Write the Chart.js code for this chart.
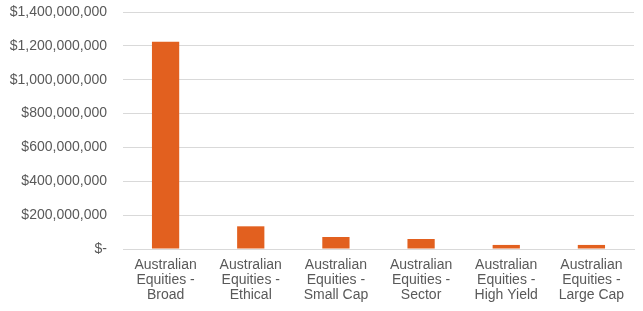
<!DOCTYPE html>
<html>
<head>
<meta charset="utf-8">
<script src="https://cdn.jsdelivr.net/npm/chart.js@4/dist/chart.umd.min.js"></script>
<style>
  html, body { margin: 0; padding: 0; background: #fff; }
  #wrap { width: 643px; height: 311px; }
</style>
</head>
<body>
<div id="wrap"><canvas id="fundChart"></canvas></div>
<script>
// ========== DATA ==========
const categories = [
  ["Australian", "Equities -", "Broad"],
  ["Australian", "Equities -", "Ethical"],
  ["Australian", "Equities -", "Small Cap"],
  ["Australian", "Equities -", "Sector"],
  ["Australian", "Equities -", "High Yield"],
  ["Australian", "Equities -", "Large Cap"],
];
const fundsUnderManagement = [1225000000, 134000000, 71000000, 59000000, 24000000, 24000000];
const yMax = 1400000000;
const yStep = 200000000;

// ========== CHART ==========
const labelFont = { family: "'Liberation Sans', Arial, sans-serif", size: 14, lineHeight: 1.1 };

new Chart(document.getElementById("fundChart"), {
  type: "bar",
  data: {
    labels: categories,
    datasets: [
      {
        data: fundsUnderManagement,
        backgroundColor: "#E2601F",
        categoryPercentage: 1,
        barPercentage: 0.32,
      },
    ],
  },
  options: {
    responsive: true,
    maintainAspectRatio: false,
    animation: false,
    layout: { padding: { top: 12, right: 9, bottom: 0, left: 0 } },
    plugins: {
      legend: { display: false },
      tooltip: { enabled: false },
    },
    scales: {
      x: {
        grid: { display: false, drawTicks: false },
        border: { color: "#d9d9d9" },
        ticks: { color: "#595959", font: labelFont, padding: 8, maxRotation: 0, autoSkip: false },
        afterFit: (scale) => { scale.height = 62; },
      },
      y: {
        min: 0,
        max: yMax,
        grid: { color: "#d9d9d9", drawTicks: false },
        border: { display: false },
        ticks: {
          stepSize: yStep,
          color: "#595959",
          font: labelFont,
          padding: 16,
          callback: (v) => (v === 0 ? "$-" : "$" + v.toLocaleString("en-US")),
        },
        afterFit: (scale) => {
          scale.width = 123;
          scale.paddingTop = 0;
          scale.paddingBottom = 0;
        },
      },
    },
  },
});
</script>
</body>
</html>
